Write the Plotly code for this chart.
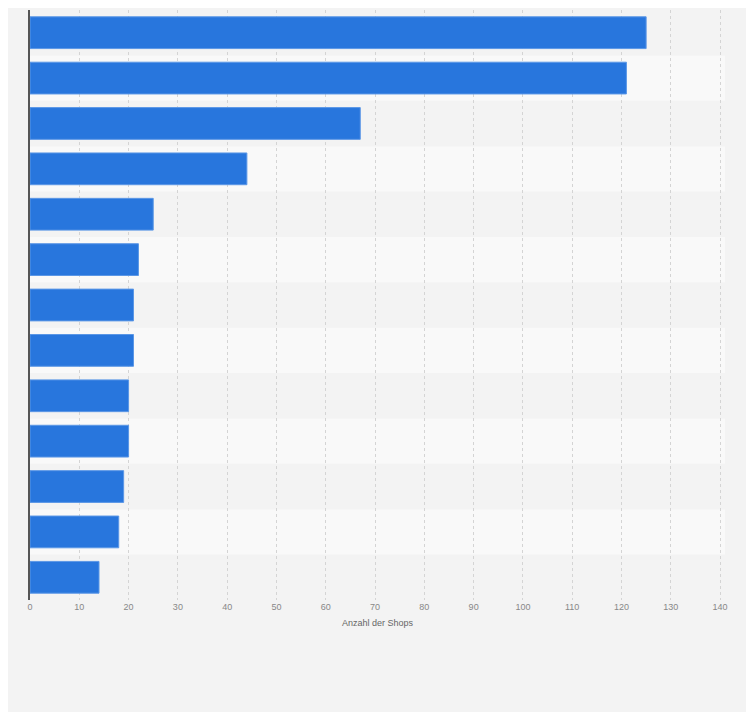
import plotly.graph_objects as go

categories = [f"Shop {i}" for i in range(1, 14)]
values = [125, 121, 67, 44, 25, 22, 21, 21, 20, 20, 19, 18, 14]

fig = go.Figure(go.Bar(
    x=values, y=categories, orientation="h",
    marker=dict(color="#2876dd", line=dict(color="#5b97e6", width=1)),
    width=0.7, hoverinfo="x"))

shapes = []
for i in range(len(categories)):
    shapes.append(dict(type="rect", xref="paper", yref="y", x0=0, x1=1,
                       y0=i - 0.5, y1=i + 0.5, layer="below", line=dict(width=0),
                       fillcolor="#f3f3f3" if i % 2 == 0 else "#f9f9f9"))
fig.update_layout(
    width=738, height=704, shapes=shapes,
    paper_bgcolor="#f3f3f3", plot_bgcolor="#f3f3f3",
    margin=dict(l=22, r=21, t=2, b=112),
    showlegend=False, bargap=0.3,
    xaxis=dict(range=[0, 141], dtick=10, showgrid=True, gridcolor="#d4d4d4",
               griddash="dot", zeroline=False, tickfont=dict(size=9, color="#888", family="Arial"),
               title=dict(text="Anzahl der Shops", font=dict(size=9, color="#666", family="Arial"), standoff=8),
               ticks="", ticklen=6),
    yaxis=dict(categoryorder="array", categoryarray=categories[::-1],
               autorange=True, showticklabels=False, showline=True,
               linecolor="#555", linewidth=1.5, ticks=""),
)
fig.write_html("out.html")
